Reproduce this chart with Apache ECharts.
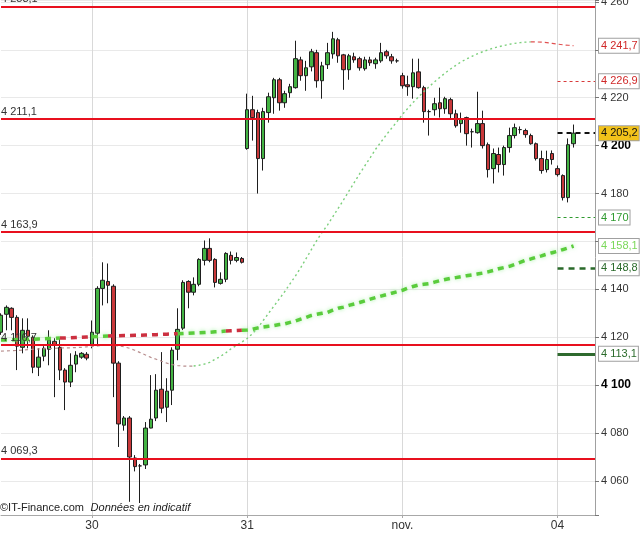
<!DOCTYPE html>
<html><head><meta charset="utf-8">
<script src="https://cdn.jsdelivr.net/npm/echarts@6/dist/echarts.min.js"></script>
<style>html,body{margin:0;padding:0;background:#fff}#c{width:640px;height:535px}</style>
</head><body><div id="c"></div>
<script>
// ---------- data ----------
const dayLabels = ['30', '31', 'nov.', '04'];
const dayStarts = [17, 46, 75, 104];
const slotCount = 112;

// [open, close, low, high]
const candles = [
 [4122.1,4129.2,4121.0,4130.0],[4129.6,4132.5,4122.9,4133.3],[4132.1,4128.3,4122.9,4132.5],[4128.3,4116.3,4106.3,4129.2],
 [4115.8,4122.9,4113.3,4127.9],[4122.9,4120.4,4115.4,4127.9],[4120.0,4107.5,4105.0,4120.8],[4107.5,4111.7,4103.8,4115.4],
 [4112.1,4115.4,4110.0,4116.3],[4115.0,4118.8,4108.3,4122.9],[4118.3,4116.7,4095.0,4119.6],[4115.8,4106.3,4102.1,4119.6],
 [4106.3,4101.3,4089.6,4107.1],[4101.3,4108.3,4099.2,4113.3],[4108.8,4112.5,4105.4,4114.2],[4111.7,4113.3,4111.0,4113.8],
 [4112.9,4111.3,4110.4,4113.8],[4117.0,4122.1,4115.4,4127.0],[4121.7,4140.4,4116.3,4141.3],[4140.4,4143.8,4133.3,4151.3],
 [4143.3,4141.7,4134.2,4150.8],[4141.3,4109.2,4095.0,4142.1],[4109.2,4083.8,4074.2,4110.0],[4083.3,4086.3,4081.0,4087.1],
 [4086.3,4070.0,4051.3,4087.1],[4069.6,4066.0,4064.0,4070.8],[4066.3,4066.3,4050.8,4067.1],[4066.7,4082.1,4065.0,4084.6],
 [4082.1,4085.8,4082.0,4104.2],[4086.3,4097.9,4085.0,4104.6],[4098.3,4090.4,4088.3,4113.8],[4090.8,4097.5,4084.6,4102.9],
 [4097.9,4114.6,4091.7,4115.8],[4115.0,4123.3,4110.4,4132.1],[4123.8,4142.9,4123.0,4143.8],[4143.3,4138.8,4132.1,4143.8],
 [4138.8,4142.1,4137.5,4145.0],[4142.1,4152.5,4141.3,4153.0],[4152.1,4157.1,4150.0,4160.4],[4157.1,4152.1,4151.3,4161.3],
 [4152.5,4142.9,4140.8,4153.0],[4142.5,4144.2,4142.0,4147.1],[4144.2,4155.0,4143.0,4155.5],[4154.2,4152.1,4150.4,4155.8],
 [4152.1,4153.3,4151.3,4155.4],[4152.9,4151.3,4150.8,4153.5],
 [4198.8,4215.0,4198.3,4221.7],[4215.0,4211.7,4202.1,4220.8],[4213.8,4194.6,4180.0,4215.0],[4194.6,4214.2,4189.6,4215.8],
 [4213.8,4220.4,4209.6,4222.1],[4220.0,4227.5,4213.3,4228.3],[4227.5,4217.9,4214.6,4228.3],[4217.9,4221.7,4215.8,4222.9],
 [4222.1,4224.6,4220.0,4225.8],[4224.2,4236.3,4223.8,4243.8],[4235.8,4229.2,4227.1,4237.1],[4229.2,4232.5,4222.9,4235.4],
 [4232.9,4239.2,4231.0,4240.4],[4238.8,4227.1,4224.2,4240.0],[4227.1,4233.3,4219.6,4235.0],[4233.8,4238.8,4232.0,4242.9],
 [4238.3,4244.6,4236.3,4247.5],[4244.2,4237.5,4234.6,4245.0],[4237.9,4231.7,4223.3,4238.3],[4231.7,4237.5,4227.5,4238.3],
 [4237.1,4235.8,4234.6,4238.8],[4236.3,4232.5,4231.3,4237.1],[4232.1,4235.8,4231.3,4237.1],[4235.8,4234.6,4233.3,4237.1],
 [4234.2,4235.8,4232.1,4236.7],[4235.4,4238.8,4234.6,4242.9],[4239.2,4237.5,4236.3,4240.0],[4237.1,4235.4,4234.2,4238.3],
 [4235.4,4235.4,4234.6,4236.3],
 [4229.2,4225.0,4223.8,4230.4],[4225.4,4224.6,4220.8,4229.2],[4224.6,4230.4,4219.6,4236.3],[4230.8,4224.2,4223.8,4236.3],
 [4224.2,4214.2,4209.6,4225.0],[4214.2,4214.2,4204.2,4215.0],[4215.0,4217.5,4212.5,4220.0],[4217.9,4215.4,4211.7,4224.2],
 [4215.4,4219.6,4213.3,4220.4],[4219.2,4213.3,4211.3,4220.0],[4213.3,4208.3,4207.5,4215.0],[4209.2,4211.3,4205.4,4213.8],
 [4211.7,4205.0,4200.0,4212.1],[4205.8,4205.8,4199.2,4207.1],[4205.4,4209.2,4205.0,4222.5],[4209.2,4200.0,4198.8,4214.6],
 [4200.4,4190.0,4186.7,4201.3],[4190.4,4196.7,4184.2,4198.8],[4196.3,4192.1,4188.8,4199.2],[4192.1,4199.2,4187.5,4200.0],
 [4199.2,4204.2,4197.1,4207.5],[4204.2,4207.5,4203.0,4209.2],[4206.7,4206.7,4205.0,4208.0],[4206.3,4204.6,4203.3,4207.1],
 [4204.2,4200.8,4200.4,4205.0],[4200.8,4194.6,4193.8,4201.3],[4194.6,4189.6,4188.3,4197.9],[4190.0,4194.2,4188.8,4197.9],
 [4196.7,4194.2,4192.1,4198.0],
 [4190.4,4187.9,4187.1,4191.7],[4187.5,4178.3,4177.1,4188.0],[4178.3,4200.4,4176.3,4203.0],[4200.8,4205.2,4199.2,4208.8]
];

// thin moving average
const maFast = [
 4114.2,4114.3,4114.4,4114.5,4114.6,4114.8,4115.0,4115.1,4115.2,4115.3,
 4115.4,4115.5,4115.6,4115.6,4115.7,4115.8,4116.0,4116.2,4116.4,4116.6,
 4116.7,4116.6,4116.4,4116.0,4115.4,4114.6,4113.6,4112.6,4111.6,4110.8,
 4110.0,4109.2,4108.6,4108.2,4108.0,4107.9,4108.0,4108.3,4108.8,4109.5,
 4110.8,4112.0,4113.5,4115.2,4116.6,4118.0,4119.5,4121.5,4124.0,4127.0,
 4130.0,4133.0,4136.0,4139.0,4142.3,4145.5,4149.0,4152.8,4156.6,4160.4,
 4163.8,4166.8,4170.3,4173.8,4177.3,4181.0,4184.6,4188.2,4191.6,4195.0,
 4198.5,4201.5,4204.5,4207.3,4210.0,4213.0,4215.5,4218.0,4220.3,4222.5,
 4224.6,4226.6,4228.5,4230.3,4232.0,4233.5,4235.0,4236.2,4237.3,4238.3,
 4239.2,4240.0,4240.7,4241.3,4241.8,4242.3,4242.7,4243.0,4243.2,4243.3,
 4243.3,4243.2,4243.0,4242.7,4242.4,4242.1,4241.9,4241.7
];
const fastPhaseBreaks = [36, 99]; // flat | rising | falling

// thick moving average
const maSlow = [
 4118.9,4118.9,4119.0,4119.0,4119.1,4119.1,4119.2,4119.3,4119.4,4119.5,
 4119.6,4119.7,4119.7,4119.8,4119.9,4120.0,4120.1,4120.2,4120.3,4120.4,
 4120.5,4120.6,4120.6,4120.7,4120.7,4120.8,4120.8,4120.9,4121.0,4121.1,
 4121.2,4121.3,4121.4,4121.5,4121.6,4121.7,4121.8,4121.9,4122.0,4122.1,
 4122.3,4122.4,4122.6,4122.7,4122.8,4122.9,4123.0,4123.3,4123.9,4124.3,
 4124.6,4124.9,4125.3,4125.6,4126.2,4126.8,4127.6,4128.3,4129.1,4129.6,
 4130.0,4130.4,4131.3,4132.1,4132.6,4133.3,4133.9,4134.5,4135.2,4135.9,
 4136.6,4137.2,4137.8,4138.4,4139.0,4139.6,4140.5,4141.2,4141.8,4142.1,
 4142.4,4143.0,4143.6,4144.1,4144.6,4144.9,4145.3,4145.7,4146.0,4146.4,
 4146.8,4147.3,4147.9,4148.6,4149.1,4149.6,4150.4,4151.3,4152.1,4152.7,
 4153.4,4154.0,4154.7,4155.3,4155.9,4156.6,4157.3,4158.1
];
const slowRedRanges = [[12, 16], [21, 32], [43, 44]];

const levels = [4258.1, 4211.1, 4163.9, 4116.7, 4069.3];
const sideMarks = [4226.9, 4205.2, 4170.0, 4148.8, 4113.1];

// ---------- helpers ----------
const FONT = 'Liberation Sans, Arial, sans-serif';
const cats = Array.from({length: slotCount}, (_, i) => 's' + i);
const isDayStart = i => dayStarts.indexOf(i) >= 0;
function fmtNum(v) {
  const dec = Math.abs(v - Math.round(v)) > 1e-6;
  const s = dec ? v.toFixed(1) : String(Math.round(v));
  const parts = s.split('.');
  const ip = parts[0].slice(0, -3) + ' ' + parts[0].slice(-3);
  return parts[1] ? ip + ',' + parts[1] : ip;
}
function segment(arr, from, to) {
  return arr.map((v, i) => (i >= from && i <= to) ? v : null);
}
const fastEnd = maFast[maFast.length - 1];
const slowEnd = maSlow[maSlow.length - 1];
const boxedValues = sideMarks.concat([fastEnd, slowEnd]);

// slow MA split into green/red
const inRed = i => slowRedRanges.some(r => i >= r[0] && i <= r[1]);
const slowRed = maSlow.map((v, i) => (inRed(i) || inRed(i - 1) || inRed(i + 1)) ? v : null);
const slowGreen = maSlow.map((v, i) => inRed(i) ? null : v);

const boxLabel = (v, color, bg) => ({
  show: true, position: 'end', distance: 4, color: color, backgroundColor: bg || '#fff',
  borderColor: '#a0a0a0', borderWidth: 1, padding: [2, 1, 1, 2], fontSize: 11, fontFamily: FONT,
  formatter: () => fmtNum(v)
});
const sideStyles = [
  {line: {color: '#d83a3a', width: 1, type: [3, 3]}, text: '#d02828'},
  {line: {color: '#111', width: 2, type: [5, 4]}, text: '#111', bg: '#f2c21a'},
  {line: {color: '#2f9a2f', width: 1, type: [3, 3]}, text: '#2f9a2f'},
  {line: {color: '#2a6a2a', width: 2.5, type: [6, 5]}, text: '#2a6a2a'},
  {line: {color: '#2f6a2f', width: 3, type: 'solid'}, text: '#2a6a2a'}
];
const sideMarkData = sideMarks.map((v, k) => [
  {coord: [cats[dayStarts[3]], v], lineStyle: sideStyles[k].line, label: boxLabel(v, sideStyles[k].text, sideStyles[k].bg)},
  {coord: [cats[slotCount - 1], v]}
]).concat([
  [{coord: [cats[dayStarts[3]], fastEnd], lineStyle: {color: 'rgba(0,0,0,0)', width: 0}, label: boxLabel(fastEnd, '#d02828')},
   {coord: [cats[slotCount - 1], fastEnd]}],
  [{coord: [cats[dayStarts[3]], slowEnd], lineStyle: {color: 'rgba(0,0,0,0)', width: 0}, label: boxLabel(slowEnd, '#7bd85a')},
   {coord: [cats[slotCount - 1], slowEnd]}]
]);

const chart = echarts.init(document.getElementById('c'), null, {renderer: 'canvas'});
chart.setOption({
  animation: false,
  backgroundColor: '#fff',
  textStyle: {fontFamily: FONT},
  grid: {left: 1, right: 45, top: 0, bottom: 20, containLabel: false, outerBoundsMode: 'none'},
  xAxis: {
    type: 'category', data: cats, boundaryGap: false,
    axisLine: {show: true, lineStyle: {color: '#a8a8a8'}},
    axisTick: {show: true, length: 3, interval: i => isDayStart(i), lineStyle: {color: '#a8a8a8'}},
    axisLabel: {interval: i => isDayStart(i), margin: 5, fontSize: 12, color: '#333', fontFamily: FONT,
      formatter: (v, i) => { const k = dayStarts.indexOf(i); return k >= 0 ? dayLabels[k] : ''; }},
    splitLine: {show: true, interval: i => isDayStart(i), lineStyle: {color: '#d9d9d9', width: 1}}
  },
  yAxis: {
    type: 'value', position: 'right', min: 4045.8, max: 4260.8,
    splitNumber: 10, minInterval: 20, maxInterval: 20,
    axisLine: {show: true, lineStyle: {color: '#a0a0a0'}},
    axisTick: {show: true, length: 4, lineStyle: {color: '#777'}},
    axisLabel: {
      margin: 6, fontSize: 11, color: '#333', fontFamily: FONT,
      showMinLabel: true, showMaxLabel: true, hideOverlap: false,
      formatter: v => {
        if (Math.abs(v / 20 - Math.round(v / 20)) > 1e-6) return '';
        if (boxedValues.some(b => Math.abs(b - v) < 4)) return '';
        const t = fmtNum(Math.round(v));
        return Math.round(v) % 100 === 0 ? '{b|' + t + '}' : t;
      },
      rich: {b: {fontWeight: 'bold', fontSize: 12, color: '#000', fontFamily: FONT}}
    },
    splitLine: {show: true, lineStyle: {color: '#e9e9e9', width: 1}}
  },
  series: [
    { // level labels (under candles)
      name: 'levelLabels', type: 'line', data: [], z: 1, silent: true,
      markLine: {
        silent: true, symbol: ['none', 'none'], lineStyle: {color: 'rgba(0,0,0,0)', width: 0},
        label: {show: true, position: 'insideStartTop', distance: [0, 2], color: '#333', fontSize: 11,
          fontFamily: FONT},
        data: levels.map(v => ({yAxis: v, label: {formatter: () => fmtNum(v)}}))
      }
    },
    {
      name: 'price', type: 'candlestick', data: candles, barWidth: 4, z: 2,
      itemStyle: {color: '#43b343', color0: '#c8383a', borderColor: '#1e1e1e', borderColor0: '#1e1e1e', borderWidth: 1}
    },
    {
      name: 'fastFlat', type: 'line', data: segment(maFast, 0, fastPhaseBreaks[0]), z: 3,
      showSymbol: false, smooth: false, connectNulls: false,
      lineStyle: {color: '#b88e8e', width: 1.2, type: [3, 3]}
    },
    {
      name: 'fastUp', type: 'line', data: segment(maFast, fastPhaseBreaks[0], fastPhaseBreaks[1]), z: 3,
      showSymbol: false, lineStyle: {color: '#7ccf7c', width: 1.4, type: [2, 3]}
    },
    {
      name: 'fastDown', type: 'line', data: segment(maFast, fastPhaseBreaks[1], maFast.length - 1), z: 3,
      showSymbol: false, lineStyle: {color: '#e05050', width: 1.2, type: [4, 3]}
    },
    {
      name: 'slowUp', type: 'line', data: slowGreen, z: 3, showSymbol: false,
      lineStyle: {color: '#5acc3c', width: 3.5, type: [6, 5],
        shadowColor: 'rgba(130,235,130,0.7)', shadowBlur: 4}
    },
    {
      name: 'slowDown', type: 'line', data: slowRed, z: 3, showSymbol: false,
      lineStyle: {color: '#cc3040', width: 3.5, type: [6, 5]}
    },
    { // level lines over candles
      name: 'levels', type: 'line', data: [], z: 4, silent: true,
      markLine: {
        silent: true, symbol: ['none', 'none'], label: {show: false},
        lineStyle: {color: '#e8101e', width: 2, type: 'solid'},
        data: levels.map(v => ({yAxis: v}))
      }
    },
    {
      name: 'side', type: 'line', data: [], z: 5, silent: true,
      markLine: {silent: true, symbol: ['none', 'none'], data: sideMarkData}
    }
  ],
  graphic: [{
    type: 'text', left: 0, top: 502, z: 100,
    style: {
      text: '{a|©IT-Finance.com}  {b|Données en indicatif}',
      rich: {
        a: {fontSize: 11, fill: '#222', fontFamily: FONT},
        b: {fontSize: 11, fill: '#222', fontStyle: 'italic', fontFamily: FONT}
      }
    }
  }]
});
</script></body></html>
